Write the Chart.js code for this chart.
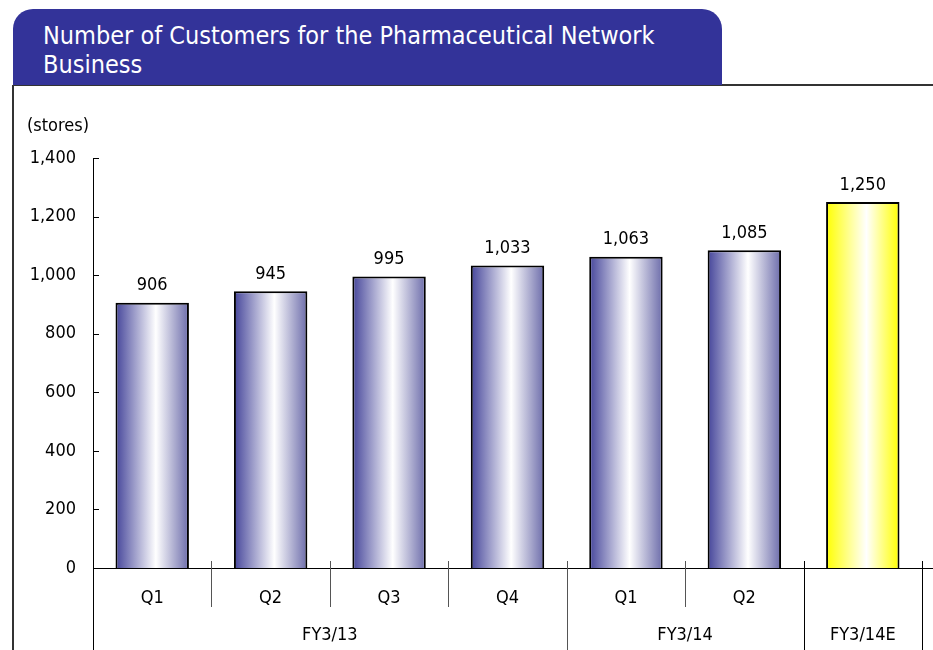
<!DOCTYPE html>
<html>
<head>
<meta charset="utf-8">
<script src="https://cdn.jsdelivr.net/npm/chart.js@4"></script>
<style>
  body { margin: 0; background: #fff; }
  #wrap { position: relative; width: 933px; height: 650px; overflow: hidden; }
  #banner {
    position: absolute; left: 13px; top: 9px; width: 709px; height: 76px;
    background: #333399; border-radius: 20px 20px 0 0;
    color: #fff; font-family: "Liberation Sans Narrow", "DejaVu Sans Condensed", "Liberation Sans", sans-serif;
    font-size: 25px; line-height: 29px; box-sizing: border-box; padding: 12px 0 0 30px;
  }
  #unit {
    position: absolute; left: 27px; top: 114px; font-size: 18px;
    font-family: "Liberation Sans Narrow", "DejaVu Sans Condensed", "Liberation Sans", sans-serif;
  }
  canvas { position: absolute; left: 0; top: 0; }
</style>
</head>
<body>
<div id="wrap">
  <canvas id="barChart" width="933" height="650"></canvas>
  <div id="banner">Number of Customers for the Pharmaceutical Network<br>Business</div>
  <div id="unit">(stores)</div>
</div>
<script>
const categories = ["Q1", "Q2", "Q3", "Q4", "Q1", "Q2", ""];
const customers = [906, 945, 995, 1033, 1063, 1085, 1250];
const groupLabels = ["FY3/13", "FY3/14", "FY3/14E"];
const groupSpans = [4, 2, 1];
const yMax = 1400;
const yStep = 200;

const FONT = "'Liberation Sans Narrow', 'DejaVu Sans Condensed', 'Liberation Sans', sans-serif";
Chart.defaults.font.family = FONT;
Chart.defaults.color = "#000";

// last bar is the estimate (yellow)
function barFill(ctx) {
  const chart = ctx.chart;
  const xs = chart.scales.x;
  if (!xs || !chart.chartArea) return "#8888bb";
  const w = (xs.width / categories.length) * 0.62;
  const cx = xs.getPixelForValue(ctx.dataIndex);
  const g = chart.ctx.createLinearGradient(cx - w / 2, 0, cx + w / 2, 0);
  if (ctx.dataIndex === categories.length - 1) {
    g.addColorStop(0, "#ffff00");
    g.addColorStop(0.55, "#ffffff");
    g.addColorStop(1, "#ffff00");
  } else {
    g.addColorStop(0, "#45459a");
    g.addColorStop(0.55, "#ffffff");
    g.addColorStop(1, "#6c6caa");
  }
  return g;
}

const decorations = {
  id: "decorations",
  afterDraw(chart) {
    const { ctx, scales: { x, y } } = chart;
    const bottom = y.getPixelForValue(0);
    const catW = x.width / categories.length;
    ctx.save();

    // frame under the banner
    ctx.strokeStyle = "#333";
    ctx.lineWidth = 2;
    ctx.beginPath();
    ctx.moveTo(13, 85); ctx.lineTo(933, 85);
    ctx.moveTo(13, 85); ctx.lineTo(13, 650);
    ctx.stroke();

    // axes
    ctx.strokeStyle = "#000";
    ctx.lineWidth = 1;
    ctx.beginPath();
    ctx.moveTo(x.left + 0.5, y.top);
    ctx.lineTo(x.left + 0.5, 650);
    ctx.moveTo(x.left, Math.round(bottom) + 0.5);
    ctx.lineTo(933, Math.round(bottom) + 0.5);
    for (let v = 0; v <= yMax; v += yStep) {
      const py = Math.round(y.getPixelForValue(v)) + 0.5;
      ctx.moveTo(x.left, py);
      ctx.lineTo(x.left + 6, py);
    }
    ctx.stroke();

    // category separators
    const groupEdges = [0];
    groupSpans.forEach((s, i) => groupEdges.push(groupEdges[i] + s));
    for (let i = 1; i <= categories.length; i++) {
      const px = Math.round(x.left + i * catW) + 0.5;
      const long = groupEdges.includes(i);
      ctx.strokeStyle = long && i > 4 ? "#000" : "#555";
      ctx.beginPath();
      ctx.moveTo(px, bottom - 7);
      ctx.lineTo(px, long ? 650 : bottom + 39);
      ctx.stroke();
    }

    // group labels
    ctx.fillStyle = "#000";
    ctx.font = "18px " + FONT;
    ctx.textAlign = "center";
    ctx.textBaseline = "middle";
    groupLabels.forEach((lab, i) => {
      const cx = x.left + ((groupEdges[i] + groupEdges[i + 1]) / 2) * catW;
      ctx.fillText(lab, cx, bottom + 67);
    });

    // value labels
    ctx.textBaseline = "bottom";
    chart.getDatasetMeta(0).data.forEach((bar, i) => {
      ctx.fillText(customers[i].toLocaleString("en-US"), bar.x, bar.y - 8);
    });
    ctx.restore();
  }
};

new Chart(document.getElementById("barChart"), {
  type: "bar",
  data: {
    labels: categories,
    datasets: [{
      data: customers,
      backgroundColor: barFill,
      borderColor: "#000",
      borderWidth: 2,
      barPercentage: 0.62,
      categoryPercentage: 1
    }]
  },
  options: {
    responsive: false,
    animation: false,
    layout: { padding: { top: 158, right: 11, left: 0, bottom: 0 } },
    plugins: { legend: { display: false }, tooltip: { enabled: false } },
    scales: {
      x: {
        grid: { display: false, drawTicks: false },
        border: { display: false },
        ticks: { font: { size: 18 }, color: "#000", padding: 20, maxRotation: 0 },
        afterFit(scale) { scale.height = 82; }
      },
      y: {
        min: 0,
        max: yMax,
        grid: { display: false, drawTicks: false },
        border: { display: false },
        ticks: { stepSize: yStep, font: { size: 18 }, color: "#000", padding: 17 },
        afterFit(scale) { scale.width = 93; }
      }
    }
  },
  plugins: [decorations]
});
</script>
</body>
</html>
